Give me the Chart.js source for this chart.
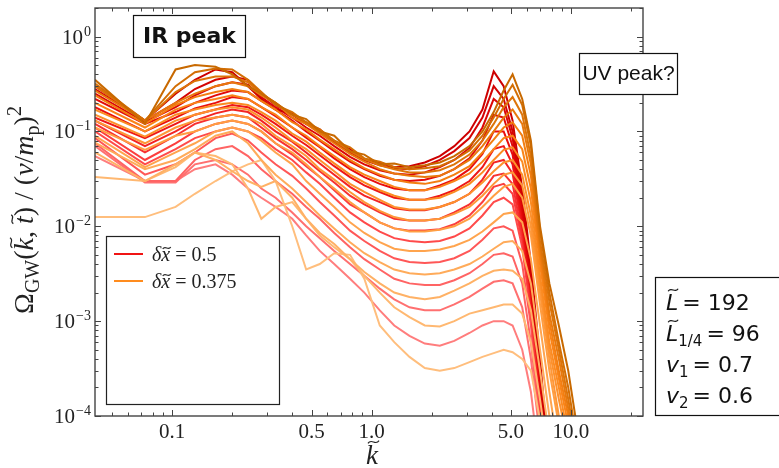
<!DOCTYPE html>
<html>
<head>
<meta charset="utf-8">
<title>GW spectrum</title>
<script src="https://cdn.jsdelivr.net/npm/chart.js@4.4.0/dist/chart.umd.min.js"></script>
<style>
    html, body { margin: 0; padding: 0; background: #fff; }
    #wrap { width: 779px; height: 468px; }
</style>
</head>
<body>
<div id="wrap"><canvas id="gwChart" width="779" height="468"></canvas></div>
<script>
// k values shared by every spectrum
const kValues = [0.041, 0.073, 0.104, 0.13, 0.165, 0.2, 0.24, 0.28, 0.33, 0.4, 0.47, 0.55, 0.65, 0.78, 0.92,
    1.1, 1.3, 1.55, 1.85, 2.2, 2.6, 3.1, 3.6, 4.1, 4.6, 5.1, 5.7, 6.3, 7.0, 7.8, 8.7, 9.7, 10.8];

// dx = 0.375 spectra, early (o0) to late (o14)
const o0 = [0.0125, 0.0125, 0.016, 0.022, 0.03, 0.038, 0.045, 0.05, 0.03, 0.01, 0.0035, 0.004, 0.0052, 0.005, 0.0028, 0.0009, 0.0006, 0.00042, 0.00032, 0.0003, 0.00032, 0.00037, 0.00042, 0.00046, 0.0005, 0.00047, 0.0004, 0.0003, 0.00009, 0.00002, 0.00001, 0.00001, 0.00001];
const o1 = [0.033, 0.03, 0.042, 0.06, 0.055, 0.045, 0.025, 0.012, 0.016, 0.018, 0.012, 0.008, 0.006, 0.0045, 0.003, 0.002, 0.0014, 0.0011, 0.0009, 0.00088, 0.001, 0.0012, 0.0013, 0.0014, 0.0015, 0.0015, 0.0012, 0.0006, 0.00015, 0.00003, 0.00001, 0.00001, 0.00001];
const o2 = [0.06, 0.03, 0.045, 0.06, 0.05, 0.038, 0.03, 0.026, 0.03, 0.02, 0.012, 0.0085, 0.0065, 0.0045, 0.0033, 0.0025, 0.002, 0.0018, 0.0017, 0.0018, 0.0021, 0.0025, 0.003, 0.0034, 0.0035, 0.0034, 0.0028, 0.0013, 0.0003, 0.00006, 0.00001, 0.00001, 0.00001];
const o3 = [0.076, 0.04, 0.05, 0.065, 0.09, 0.1, 0.075, 0.05, 0.035, 0.025, 0.018, 0.013, 0.0095, 0.0068, 0.0052, 0.0042, 0.0035, 0.0032, 0.0031, 0.0032, 0.0035, 0.004, 0.0048, 0.0058, 0.0068, 0.007, 0.0055, 0.0025, 0.0005, 0.0001, 0.00002, 0.00001, 0.00001];
const o4 = [0.09, 0.042, 0.06, 0.075, 0.1, 0.11, 0.1, 0.08, 0.06, 0.045, 0.03, 0.022, 0.016, 0.011, 0.0085, 0.0068, 0.0058, 0.0055, 0.0055, 0.0057, 0.0062, 0.0072, 0.0088, 0.011, 0.0135, 0.014, 0.011, 0.0045, 0.0009, 0.00018, 0.00004, 0.00001, 0.00001];
const o5 = [0.11, 0.064, 0.09, 0.1, 0.12, 0.13, 0.12, 0.1, 0.075, 0.06, 0.045, 0.033, 0.025, 0.018, 0.014, 0.011, 0.0095, 0.0088, 0.0088, 0.0092, 0.01, 0.012, 0.016, 0.021, 0.026, 0.028, 0.02, 0.008, 0.0015, 0.0003, 0.00008, 0.00002, 0.00001];
const o6 = [0.13, 0.075, 0.11, 0.13, 0.14, 0.15, 0.14, 0.12, 0.09, 0.07, 0.055, 0.04, 0.031, 0.023, 0.018, 0.0145, 0.0125, 0.0115, 0.0115, 0.012, 0.0135, 0.016, 0.021, 0.028, 0.035, 0.037, 0.027, 0.01, 0.002, 0.0004, 0.0001, 0.00003, 0.00001];
const o7 = [0.15, 0.088, 0.13, 0.15, 0.17, 0.18, 0.17, 0.14, 0.11, 0.08, 0.065, 0.05, 0.038, 0.028, 0.023, 0.019, 0.016, 0.015, 0.015, 0.016, 0.018, 0.022, 0.029, 0.038, 0.047, 0.05, 0.035, 0.013, 0.0025, 0.0005, 0.00015, 0.00005, 0.00001];
const o8 = [0.17, 0.1, 0.15, 0.17, 0.19, 0.2, 0.19, 0.16, 0.13, 0.095, 0.078, 0.06, 0.046, 0.035, 0.029, 0.024, 0.021, 0.019, 0.019, 0.02, 0.023, 0.028, 0.037, 0.05, 0.064, 0.068, 0.048, 0.018, 0.003, 0.0006, 0.0002, 0.00006, 0.00001];
const o9 = [0.2, 0.11, 0.17, 0.2, 0.22, 0.24, 0.22, 0.18, 0.15, 0.11, 0.09, 0.07, 0.055, 0.042, 0.035, 0.03, 0.026, 0.024, 0.024, 0.026, 0.03, 0.036, 0.048, 0.065, 0.085, 0.09, 0.065, 0.025, 0.004, 0.0008, 0.00025, 0.00008, 0.00002];
const o10 = [0.24, 0.12, 0.19, 0.23, 0.26, 0.28, 0.26, 0.21, 0.17, 0.125, 0.105, 0.082, 0.065, 0.05, 0.041, 0.035, 0.031, 0.029, 0.028, 0.03, 0.035, 0.043, 0.06, 0.082, 0.11, 0.125, 0.09, 0.034, 0.005, 0.001, 0.0003, 0.0001, 0.00002];
const o11 = [0.27, 0.13, 0.2, 0.25, 0.3, 0.33, 0.3, 0.24, 0.2, 0.14, 0.12, 0.095, 0.075, 0.058, 0.048, 0.04, 0.036, 0.034, 0.033, 0.034, 0.04, 0.05, 0.07, 0.1, 0.14, 0.17, 0.12, 0.045, 0.006, 0.0012, 0.0004, 0.00012, 0.00003];
const o12 = [0.3, 0.13, 0.26, 0.34, 0.38, 0.38, 0.33, 0.25, 0.2, 0.15, 0.125, 0.098, 0.08, 0.062, 0.051, 0.044, 0.04, 0.037, 0.037, 0.039, 0.045, 0.057, 0.08, 0.12, 0.18, 0.23, 0.15, 0.055, 0.007, 0.0016, 0.0005, 0.00015, 0.00004];
const o13 = [0.32, 0.13, 0.3, 0.42, 0.46, 0.45, 0.35, 0.26, 0.19, 0.16, 0.125, 0.105, 0.08, 0.068, 0.052, 0.048, 0.042, 0.04, 0.041, 0.043, 0.05, 0.063, 0.09, 0.14, 0.22, 0.31, 0.19, 0.07, 0.009, 0.002, 0.0006, 0.0002, 0.00005];
const o14 = [0.35, 0.12, 0.45, 0.5, 0.48, 0.4, 0.3, 0.25, 0.2, 0.15, 0.135, 0.1, 0.09, 0.062, 0.057, 0.045, 0.046, 0.042, 0.044, 0.047, 0.055, 0.07, 0.1, 0.16, 0.27, 0.4, 0.22, 0.08, 0.01, 0.0025, 0.0009, 0.0003, 0.00007];

// dx = 0.5 spectra, early (r0) to late (r13)
const r0 = [0.055, 0.03, 0.03, 0.04, 0.045, 0.035, 0.025, 0.02, 0.016, 0.012, 0.008, 0.0055, 0.004, 0.0028, 0.002, 0.0013, 0.0009, 0.0007, 0.00058, 0.00055, 0.00062, 0.00075, 0.0009, 0.001, 0.001, 0.0009, 0.0005, 0.00018, 0.00003, 0.00001, 0.00001, 0.00001, 0.00001];
const r1 = [0.07, 0.029, 0.029, 0.045, 0.05, 0.045, 0.035, 0.025, 0.02, 0.014, 0.01, 0.0075, 0.0055, 0.004, 0.003, 0.0022, 0.0017, 0.0014, 0.0013, 0.0013, 0.0015, 0.0018, 0.0022, 0.0026, 0.0027, 0.0025, 0.0014, 0.0004, 0.00006, 0.00001, 0.00001, 0.00001, 0.00001];
const r2 = [0.075, 0.03, 0.03, 0.05, 0.065, 0.07, 0.055, 0.04, 0.03, 0.022, 0.016, 0.012, 0.0085, 0.006, 0.0045, 0.0035, 0.0028, 0.0025, 0.0024, 0.0024, 0.0027, 0.0032, 0.004, 0.005, 0.0052, 0.0048, 0.0025, 0.0006, 0.00008, 0.00001, 0.00001, 0.00001, 0.00001];
const r3 = [0.085, 0.035, 0.045, 0.06, 0.085, 0.095, 0.08, 0.06, 0.045, 0.034, 0.025, 0.018, 0.013, 0.009, 0.007, 0.0055, 0.0046, 0.0042, 0.0041, 0.0042, 0.0046, 0.0055, 0.0072, 0.0095, 0.01, 0.009, 0.004, 0.0009, 0.0001, 0.00001, 0.00001, 0.00001, 0.00001];
const r4 = [0.1, 0.045, 0.065, 0.085, 0.1, 0.11, 0.1, 0.085, 0.065, 0.05, 0.037, 0.028, 0.02, 0.014, 0.011, 0.0088, 0.0075, 0.007, 0.0068, 0.007, 0.0078, 0.0095, 0.013, 0.018, 0.02, 0.017, 0.006, 0.0012, 0.00012, 0.00001, 0.00001, 0.00001, 0.00001];
const r5 = [0.11, 0.05, 0.075, 0.1, 0.12, 0.13, 0.12, 0.1, 0.075, 0.057, 0.043, 0.033, 0.024, 0.017, 0.014, 0.011, 0.0095, 0.009, 0.009, 0.0093, 0.0105, 0.013, 0.018, 0.026, 0.028, 0.022, 0.007, 0.0013, 0.00013, 0.00001, 0.00001, 0.00001, 0.00001];
const r6 = [0.12, 0.06, 0.09, 0.12, 0.14, 0.15, 0.14, 0.11, 0.085, 0.065, 0.05, 0.038, 0.029, 0.021, 0.017, 0.014, 0.012, 0.0115, 0.0115, 0.012, 0.014, 0.017, 0.023, 0.034, 0.036, 0.028, 0.008, 0.0015, 0.00015, 0.00001, 0.00001, 0.00001, 0.00001];
const r7 = [0.13, 0.07, 0.1, 0.13, 0.155, 0.17, 0.16, 0.13, 0.1, 0.078, 0.06, 0.046, 0.035, 0.026, 0.021, 0.018, 0.0155, 0.0148, 0.0148, 0.016, 0.018, 0.022, 0.031, 0.047, 0.05, 0.036, 0.0095, 0.0018, 0.00018, 0.00001, 0.00001, 0.00001, 0.00001];
const r8 = [0.14, 0.085, 0.12, 0.15, 0.17, 0.19, 0.18, 0.15, 0.12, 0.09, 0.072, 0.056, 0.043, 0.033, 0.027, 0.023, 0.02, 0.019, 0.019, 0.021, 0.024, 0.03, 0.042, 0.065, 0.07, 0.045, 0.011, 0.002, 0.0002, 0.00002, 0.00001, 0.00001, 0.00001];
const r9 = [0.18, 0.1, 0.14, 0.175, 0.2, 0.23, 0.22, 0.18, 0.145, 0.11, 0.086, 0.068, 0.052, 0.04, 0.033, 0.028, 0.025, 0.024, 0.024, 0.027, 0.031, 0.04, 0.058, 0.1, 0.1, 0.057, 0.013, 0.0022, 0.00022, 0.00002, 0.00001, 0.00001, 0.00001];
const r10 = [0.22, 0.12, 0.16, 0.2, 0.24, 0.27, 0.26, 0.21, 0.17, 0.13, 0.1, 0.08, 0.062, 0.048, 0.04, 0.034, 0.031, 0.03, 0.031, 0.034, 0.04, 0.052, 0.08, 0.15, 0.14, 0.07, 0.015, 0.0025, 0.00025, 0.00002, 0.00001, 0.00001, 0.00001];
const r11 = [0.25, 0.125, 0.18, 0.24, 0.3, 0.33, 0.31, 0.23, 0.18, 0.14, 0.11, 0.09, 0.07, 0.054, 0.045, 0.039, 0.036, 0.035, 0.037, 0.042, 0.05, 0.067, 0.11, 0.22, 0.18, 0.085, 0.017, 0.0028, 0.00028, 0.00002, 0.00001, 0.00001, 0.00001];
const r12 = [0.28, 0.13, 0.2, 0.28, 0.35, 0.38, 0.35, 0.25, 0.19, 0.15, 0.12, 0.1, 0.078, 0.06, 0.05, 0.044, 0.041, 0.04, 0.043, 0.05, 0.062, 0.085, 0.14, 0.3, 0.22, 0.1, 0.02, 0.003, 0.0003, 0.00002, 0.00001, 0.00001, 0.00001];
const r13 = [0.3, 0.13, 0.25, 0.35, 0.45, 0.42, 0.3, 0.22, 0.17, 0.155, 0.12, 0.105, 0.077, 0.065, 0.05, 0.047, 0.042, 0.043, 0.047, 0.055, 0.07, 0.1, 0.17, 0.43, 0.3, 0.13, 0.025, 0.004, 0.0004, 0.00003, 0.00001, 0.00001, 0.00001];

const orangeSeries = [o0, o1, o2, o3, o4, o5, o6, o7, o8, o9, o10, o11, o12, o13, o14];
const redSeries = [r0, r1, r2, r3, r4, r5, r6, r7, r8, r9, r10, r11, r12, r13];
const legendLabels = ["0.5", "0.375"];

// axis ticks
const xTickValues = [0.1, 0.5, 1, 5, 10];
const xTickLabels = ["0.1", "0.5", "1.0", "5.0", "10.0"];
const yTickExponents = [0, -1, -2, -3, -4];

const SERIF = "'Liberation Serif', 'DejaVu Serif', serif";
const SANS = "'DejaVu Sans', sans-serif";

// piecewise colour ramp from light (t=0) to dark (t=1)
function ramp(stops, t) {
    const s = t * (stops.length - 1);
    const i = Math.min(Math.floor(s), stops.length - 2);
    const f = s - i;
    const c = stops[i].map((v, j) => Math.round(v + (stops[i + 1][j] - v) * f));
    return "rgb(" + c.join(",") + ")";
}
const orangeStops = [[255, 190, 125], [255, 160, 70], [250, 130, 20], [200, 105, 0]];
const redStops = [[255, 125, 125], [255, 70, 70], [235, 15, 15], [205, 0, 0]];

function drawTilde(ctx, cx, cy, w, lw) {
    ctx.save();
    ctx.lineWidth = lw;
    ctx.beginPath();
    ctx.moveTo(cx - w / 2, cy + w * 0.12);
    ctx.bezierCurveTo(cx - w / 5, cy - w * 0.38, cx + w / 5, cy + w * 0.38, cx + w / 2, cy - w * 0.12);
    ctx.stroke();
    ctx.restore();
}

// text made of pieces: {t, font, dy, tilde, tx, tw, gap}
function richWidth(ctx, parts) {
    let w = 0;
    parts.forEach(p => { ctx.font = p.font; w += ctx.measureText(p.t).width + (p.gap || 0); });
    return w;
}
function drawRich(ctx, parts, x, y) {
    let cx = x;
    parts.forEach(p => {
        ctx.font = p.font;
        const w = ctx.measureText(p.t).width;
        ctx.fillText(p.t, cx, y + (p.dy || 0));
        if (p.tilde) {
            ctx.strokeStyle = ctx.fillStyle;
            drawTilde(ctx, cx + w / 2 + (p.tx || 0), y + (p.dy || 0) - p.tilde, p.tw || w * 0.8, 1.2);
        }
        cx += w + (p.gap || 0);
    });
}

const framePlugin = {
    id: "frame",
    afterDraw(chart) {
        const { ctx, chartArea: a, scales: { x, y } } = chart;
        ctx.save();
        ctx.strokeStyle = "#444";
        ctx.fillStyle = "#222";
        ctx.lineWidth = 1.4;
        ctx.strokeRect(a.left, a.top, a.right - a.left, a.bottom - a.top);

        // inward ticks on all four sides
        ctx.lineWidth = 1;
        const seg = (x1, y1, x2, y2) => { ctx.beginPath(); ctx.moveTo(x1, y1); ctx.lineTo(x2, y2); ctx.stroke(); };
        for (let e = -4; e <= 0; e++) {
            for (let m = 1; m <= 9; m++) {
                const v = m * Math.pow(10, e);
                if (v < y.min || v > y.max) continue;
                const py = Math.round(y.getPixelForValue(v)) + 0.5;
                const len = m === 1 ? 6 : 3.5;
                seg(a.left, py, a.left + len, py);
                seg(a.right, py, a.right - len, py);
            }
        }
        for (let e = -2; e <= 1; e++) {
            for (let m = 1; m <= 9; m++) {
                const v = m * Math.pow(10, e);
                if (v < x.min || v > x.max) continue;
                const px = Math.round(x.getPixelForValue(v)) + 0.5;
                const major = xTickValues.some(t => Math.abs(t - v) < 1e-9);
                const len = major ? 6 : 3.5;
                seg(px, a.bottom, px, a.bottom - len);
                seg(px, a.top, px, a.top + len);
            }
        }

        // tick labels
        ctx.textBaseline = "alphabetic";
        ctx.textAlign = "center";
        ctx.font = "21px " + SERIF;
        xTickValues.forEach((v, i) => {
            ctx.fillText(xTickLabels[i], x.getPixelForValue(v), a.bottom + 22);
        });
        ctx.textAlign = "right";
        yTickExponents.forEach(e => {
            const py = y.getPixelForValue(Math.pow(10, e));
            const sup = e === 0 ? "0" : "\u2212" + Math.abs(e);
            ctx.font = "14px " + SERIF;
            const sw = ctx.measureText(sup).width;
            ctx.fillText(sup, a.left - 4, py - 1);
            ctx.font = "21px " + SERIF;
            ctx.fillText("10", a.left - 5 - sw, py + 7);
        });
        ctx.textAlign = "left";

        // axis titles
        const F = 28;
        const rom = F + "px " + SERIF, it = "italic " + F + "px " + SERIF, sub = Math.round(F * 0.7) + "px " + SERIF;
        const yTitle = [
            { t: "\u03A9", font: rom },
            { t: "GW", font: sub, dy: F * 0.2 },
            { t: "(", font: rom },
            { t: "k", font: it, tilde: F * 0.78, tx: 1.5 },
            { t: ", ", font: rom },
            { t: "t", font: it, tilde: F * 0.74, tx: 1, tw: F * 0.32 },
            { t: ") / (", font: rom },
            { t: "v", font: it },
            { t: "/", font: rom },
            { t: "m", font: it },
            { t: "p", font: sub, dy: F * 0.2 },
            { t: ")", font: rom },
            { t: "2", font: sub, dy: -F * 0.42 }
        ];
        ctx.save();
        ctx.translate(33, 210);
        ctx.rotate(-Math.PI / 2);
        drawRich(ctx, yTitle, -richWidth(ctx, yTitle) / 2, 0);
        ctx.restore();

        const kTitle = [{ t: "k", font: "italic 27px " + SERIF, tilde: 22, tx: 1.5, tw: 11 }];
        drawRich(ctx, kTitle, 372 - richWidth(ctx, kTitle) / 2, 464);

        // IR peak box
        ctx.lineWidth = 1.2;
        ctx.strokeStyle = "#111";
        ctx.fillStyle = "#fff";
        ctx.fillRect(133.5, 15.5, 112, 42);
        ctx.strokeRect(133.5, 15.5, 112, 42);
        ctx.fillStyle = "#111";
        ctx.font = "bold 22px " + SANS;
        ctx.textAlign = "center";
        ctx.textBaseline = "middle";
        ctx.fillText("IR peak", 189.5, 37);

        // UV peak box (spills past the frame)
        ctx.font = "21px 'Liberation Sans', sans-serif";
        ctx.fillStyle = "#fff";
        ctx.fillRect(579.5, 53.5, 98, 41);
        ctx.strokeRect(579.5, 53.5, 98, 41);
        ctx.fillStyle = "#111";
        ctx.fillText("UV peak?", 628.5, 74.5);
        ctx.textAlign = "left";
        ctx.textBaseline = "alphabetic";

        // legend
        ctx.fillStyle = "#fff";
        ctx.fillRect(106.5, 236.5, 173, 168);
        ctx.strokeStyle = "#222";
        ctx.strokeRect(106.5, 236.5, 173, 168);
        const legendColors = ["rgb(240,20,20)", "rgb(255,140,30)"];
        legendLabels.forEach((val, i) => {
            const ly = 254 + i * 27;
            ctx.strokeStyle = legendColors[i];
            ctx.lineWidth = 2;
            seg(114, ly, 143, ly);
            ctx.fillStyle = "#222";
            ctx.strokeStyle = "#222";
            drawRich(ctx, [
                { t: "\u03B4", font: "italic 20px " + SERIF },
                { t: "x", font: "italic 20px " + SERIF, tilde: 13, tx: 1, tw: 8, gap: 5 },
                { t: "=", font: "20px " + SERIF, gap: 5 },
                { t: val, font: "20px " + SERIF }
            ], 152, ly + 7);
        });

        // parameter box, outside the frame
        ctx.lineWidth = 1.2;
        ctx.strokeStyle = "#111";
        ctx.strokeRect(655.5, 277.5, 140, 138);
        ctx.fillStyle = "#111";
        ctx.strokeStyle = "#111";
        const S = 22;
        const sr = S + "px " + SANS, si = "italic " + S + "px " + SANS, ss = Math.round(S * 0.7) + "px " + SANS;
        const rows = [
            [{ t: "L", font: si, tilde: 20, tx: 1, tw: 10, gap: 4 }, { t: "= 192", font: sr }],
            [{ t: "L", font: si, tilde: 20, tx: 1, tw: 10 }, { t: "1/4", font: ss, dy: 5, gap: 4 }, { t: "= 96", font: sr }],
            [{ t: "v", font: si }, { t: "1", font: ss, dy: 5, gap: 4 }, { t: "= 0.7", font: sr }],
            [{ t: "v", font: si }, { t: "2", font: ss, dy: 5, gap: 4 }, { t: "= 0.6", font: sr }]
        ];
        rows.forEach((r, i) => drawRich(ctx, r, 666, 310 + i * 31));
        ctx.restore();
    }
};

document.addEventListener("DOMContentLoaded", () => {
    const datasets = [];
    // orange first so it is painted over the red family; late curves on top
    for (let i = orangeSeries.length - 1; i >= 0; i--) {
        datasets.push({
            data: kValues.map((k, j) => ({ x: k, y: orangeSeries[i][j] })),
            borderColor: ramp(orangeStops, i / (orangeSeries.length - 1)),
            borderWidth: 2,
            pointRadius: 0,
            tension: 0,
            clip: 0
        });
    }
    for (let i = redSeries.length - 1; i >= 0; i--) {
        datasets.push({
            data: kValues.map((k, j) => ({ x: k, y: redSeries[i][j] })),
            borderColor: ramp(redStops, i / (redSeries.length - 1)),
            borderWidth: 2,
            pointRadius: 0,
            tension: 0,
            clip: 0
        });
    }

    const ctx = document.getElementById("gwChart").getContext("2d");
    new Chart(ctx, {
        type: "line",
        data: { datasets: datasets },
        options: {
            responsive: false,
            devicePixelRatio: 1,
            animation: false,
            events: [],
            layout: { padding: { left: 0, top: 8, right: 136, bottom: 0 } },
            plugins: { legend: { display: false }, tooltip: { enabled: false } },
            scales: {
                x: {
                    type: "logarithmic", min: 0.041, max: 23,
                    ticks: { display: false }, grid: { display: false }, border: { display: false },
                    afterFit: s => { s.height = 52; }
                },
                y: {
                    type: "logarithmic", min: 1e-4, max: 2,
                    ticks: { display: false }, grid: { display: false }, border: { display: false },
                    afterFit: s => { s.width = 95; }
                }
            }
        },
        plugins: [framePlugin]
    });
});
</script>
</body>
</html>
